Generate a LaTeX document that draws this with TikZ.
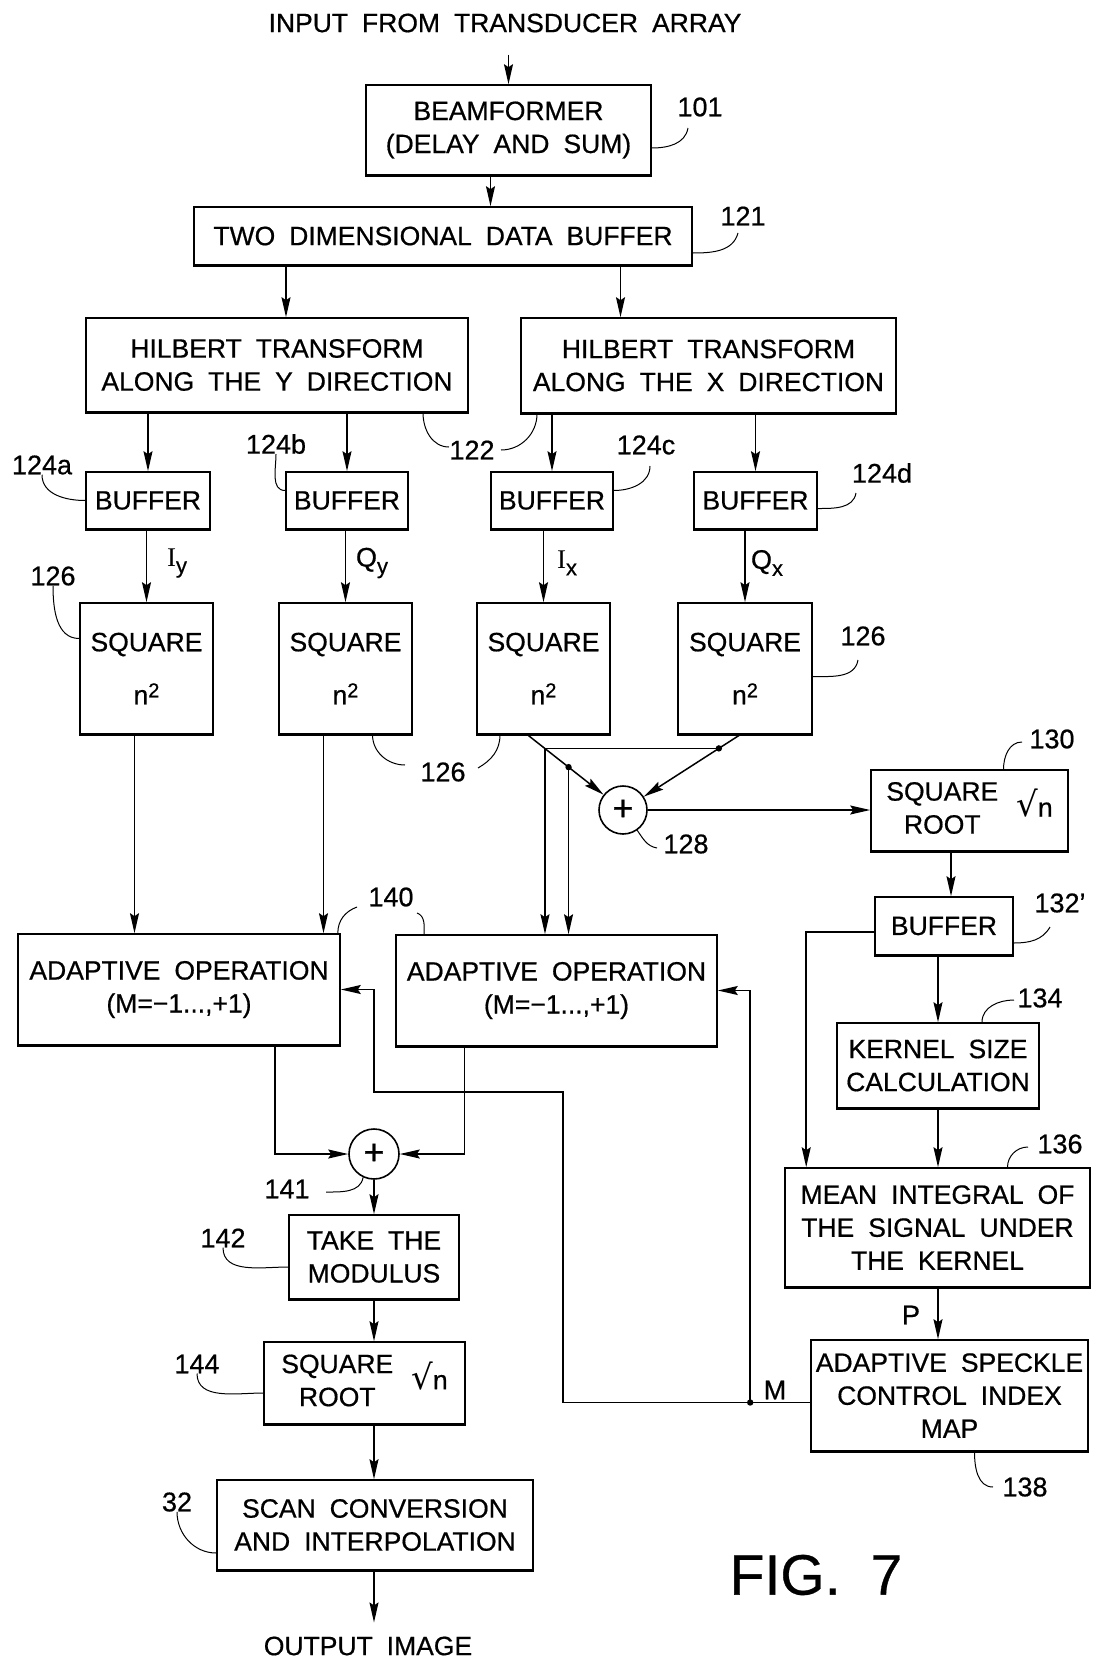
\documentclass[tikz,border=0pt]{standalone}
\usepackage{fontspec}
\setmainfont{Liberation Sans}[WordSpace=1.9, FakeBold=0.6]
\newfontfamily\symfont{DejaVu Sans}
\newfontfamily\serif{Liberation Serif}
\usepackage{tikz}
\usetikzlibrary{arrows.meta,calc}
\tikzset{node distance=2.0cm}
\newcommand{\sqsym}{{\symfont\fontsize{34}{34}\selectfont √}n}
\newcommand{\nsq}{n\raisebox{7pt}{\fontsize{20}{20}\selectfont 2}}

\begin{document}
\begin{tikzpicture}[x=1pt, y=1pt,
  blk/.style={draw, line width=1.6pt, align=center, inner sep=0pt,
    font=\fontsize{26.5}{33}\selectfont,
    append after command={(\tikzlastnode.south west) edge[line width=3pt] (\tikzlastnode.south east)}},
  sumc/.style={draw, circle, line width=1.6pt, inner sep=0pt, font=\fontsize{36}{36}\selectfont},
  txt/.style={font=\fontsize{26.5}{30}\selectfont, inner sep=0pt},
  lbl/.style={font=\fontsize{27}{30}\selectfont, inner sep=0pt},
  arr/.style={line width=1.5pt, -{Stealth[length=20pt, width=9pt, inset=3pt]}},
  lead/.style={line width=1pt}
]
\useasboundingbox (0,0) rectangle (1099,-1659);

\node[txt] (inp) at (505,-23) {INPUT FROM TRANSDUCER ARRAY};
\node[blk, minimum width=285pt, minimum height=90pt] (beam) at (508.5,-130) {BEAMFORMER\\(DELAY AND SUM)};
\node[blk, minimum width=498pt, minimum height=58pt] (tddb) at (443,-236) {TWO DIMENSIONAL DATA BUFFER};
\node[blk, minimum width=382pt, minimum height=94pt] (hilY) at (277,-365) {HILBERT TRANSFORM\\ALONG THE Y DIRECTION};
\node[blk, minimum width=375pt, minimum height=95pt] (hilX) at (708.5,-365.5) {HILBERT TRANSFORM\\ALONG THE X DIRECTION};
\node[blk, minimum width=124pt, minimum height=57pt] (bufA) at (148,-500.5) {BUFFER};
\node[blk, minimum width=122pt, minimum height=57pt] (bufB) at (347,-500.5) {BUFFER};
\node[blk, minimum width=122pt, minimum height=57pt] (bufC) at (552,-500.5) {BUFFER};
\node[blk, minimum width=123pt, minimum height=57pt] (bufD) at (755.5,-500.5) {BUFFER};
\node[blk, minimum width=133pt, minimum height=131pt] (sqA) at (146.5,-668.5) {SQUARE\\[20pt]\nsq};
\node[blk, minimum width=133pt, minimum height=131pt] (sqB) at (345.5,-668.5) {SQUARE\\[20pt]\nsq};
\node[blk, minimum width=133pt, minimum height=131pt] (sqC) at (543.5,-668.5) {SQUARE\\[20pt]\nsq};
\node[blk, minimum width=134pt, minimum height=131pt] (sqD) at (745,-668.5) {SQUARE\\[20pt]\nsq};
\node[sumc, minimum size=48pt] (sum1) at (623,-810) {+};
\node[blk, minimum width=197pt, minimum height=81pt] (sqrt130) at (969.5,-810.5) {\begin{tabular}{@{}c@{}}SQUARE\\ROOT\end{tabular}\hspace{18pt}\sqsym};
\node[blk, minimum width=138pt, minimum height=58pt] (buf132) at (944,-926) {BUFFER};
\node[blk, minimum width=202pt, minimum height=85pt] (kernel) at (938,-1065.5) {KERNEL SIZE\\CALCULATION};
\node[blk, minimum width=305pt, minimum height=119pt] (mean) at (937.5,-1227.5) {MEAN INTEGRAL OF\\THE SIGNAL UNDER\\THE KERNEL};
\node[blk, minimum width=277pt, minimum height=111pt] (ascim) at (949.5,-1395.5) {ADAPTIVE SPECKLE\\CONTROL INDEX\\MAP};
\node[blk, minimum width=322pt, minimum height=111pt] (ao1) at (179,-989.5) {ADAPTIVE OPERATION\\(M=−1...,+1)};
\node[blk, minimum width=321pt, minimum height=111pt] (ao2) at (556.5,-990.5) {ADAPTIVE OPERATION\\(M=−1...,+1)};
\node[sumc, minimum size=50pt] (sum2) at (374,-1154) {+};
\node[blk, minimum width=170pt, minimum height=84pt] (mod) at (374,-1257) {TAKE THE\\MODULUS};
\node[blk, minimum width=201pt, minimum height=82pt] (sqrt144) at (364.5,-1383) {\begin{tabular}{@{}c@{}}SQUARE\\ROOT\end{tabular}\hspace{18pt}\sqsym};
\node[blk, minimum width=316pt, minimum height=90pt] (scan) at (375,-1525) {SCAN CONVERSION\\AND INTERPOLATION};
\node[txt] (outp) at (368,-1646) {OUTPUT IMAGE};
\node[font=\fontsize{57}{60}\selectfont, inner sep=0pt] (fig) at (816,-1575) {FIG. 7};

\node[lbl] (iy) at (177,-563) {{\serif I}\raisebox{-7pt}{\fontsize{22}{22}\selectfont y}};
\node[lbl] (qy) at (372,-563) {Q\raisebox{-7pt}{\fontsize{22}{22}\selectfont y}};
\node[lbl] (ix) at (567,-563) {{\serif I}\raisebox{-7pt}{\fontsize{22}{22}\selectfont x}};
\node[lbl] (qx) at (767,-563) {Q\raisebox{-7pt}{\fontsize{22}{22}\selectfont x}};
\node[lbl] (pl) at (911,-1315) {P};
\node[lbl] (ml) at (775,-1390) {M};

\node[lbl] (l101) at (700,-107) {101};
\node[lbl] (l121) at (743,-216) {121};
\node[lbl] (l122) at (472,-450) {122};
\node[lbl] (l124a) at (42,-465) {124a};
\node[lbl] (l124b) at (276,-444) {124b};
\node[lbl] (l124c) at (646,-445) {124c};
\node[lbl] (l124d) at (882,-473) {124d};
\node[lbl] (l126a) at (53,-576) {126};
\node[lbl] (l126b) at (443,-772) {126};
\node[lbl] (l126d) at (863,-636) {126};
\node[lbl] (l128) at (686,-844) {128};
\node[lbl] (l130) at (1052,-739) {130};
\node[lbl] (l132) at (1060,-903) {132'};
\node[lbl] (l134) at (1040,-998) {134};
\node[lbl] (l136) at (1060,-1144) {136};
\node[lbl] (l138) at (1025,-1487) {138};
\node[lbl] (l140) at (391,-897) {140};
\node[lbl] (l141) at (287,-1189) {141};
\node[lbl] (l142) at (223,-1238) {142};
\node[lbl] (l144) at (197,-1364) {144};
\node[lbl] (l32) at (177,-1502) {32};

\draw[arr] ($(inp.south -| beam.north)+(0,-22)$) -- (beam.north);
\draw[arr] ([xshift=-18pt]beam.south) -- ($(beam.south |- tddb.north)+(-18,0)$);
\draw[arr] ($(hilY.north |- tddb.south)+(9,0)$) -- ([xshift=9pt]hilY.north);
\draw[arr] ($(hilX.north |- tddb.south)+(-88,0)$) -- ([xshift=-88pt]hilX.north);
\draw[arr] (hilY.south -| bufA) -- (bufA.north);
\draw[arr] (hilY.south -| bufB) -- (bufB.north);
\draw[arr] (hilX.south -| bufC) -- (bufC.north);
\draw[arr] (hilX.south -| bufD) -- (bufD.north);
\draw[arr] (bufA.south -| sqA) -- (sqA.north);
\draw[arr] (bufB.south -| sqB) -- (sqB.north);
\draw[arr] (bufC.south -| sqC) -- (sqC.north);
\draw[arr] (bufD.south -| sqD) -- (sqD.north);
\draw[arr] ([xshift=-12pt]sqA.south) -- ($(sqA.south |- ao1.north)+(-12,0)$);
\draw[arr] ([xshift=-22pt]sqB.south) -- ($(sqB.south |- ao1.north)+(-22,0)$);
\draw[arr] ([xshift=-16pt]sqC.south) -- coordinate[pos=0.23] (jK) coordinate[pos=0.54] (jI) (sum1);
\draw[arr] ([xshift=-5pt]sqD.south) -- coordinate[pos=0.22] (jQ) (sum1);
\draw[arr] (jQ) -| (jK |- ao2.north);
\draw[arr] (jI) -- (jI |- ao2.north);
\fill (jI) circle (3.2pt) (jQ) circle (3.2pt);
\draw[arr] (sum1.east) -- (sum1.east -| sqrt130.west);
\draw[arr] ($(buf132.north |- sqrt130.south)+(7,0)$) -- ([xshift=7pt]buf132.north);
\draw[arr] (kernel.north |- buf132.south) -- (kernel.north);
\draw[arr] ([yshift=-6pt]buf132.west) -| ([xshift=22pt]mean.north west);
\draw[arr] (kernel.south) -- (kernel.south |- mean.north);
\draw[arr] (mean.south -| kernel.south) -- (kernel.south |- ascim.north);

\coordinate (jM) at ($(ascim.west)+(-60,-7)$);
\coordinate (mTurn) at (563,-1092);
\draw[arr] ([yshift=-7pt]ascim.west) -| (mTurn) -| ([xshift=33pt]ao1.east) -- (ao1.east);
\draw[arr] (jM) |- (ao2.east);
\fill (jM) circle (3.2pt);

\draw[arr] ([xshift=96pt]ao1.south) |- (sum2.west);
\draw[arr] ([xshift=-92pt]ao2.south) |- (sum2.east);
\draw[arr] (sum2.south) -- (mod.north);
\draw[arr] (mod.south) -- (mod.south |- sqrt144.north);
\draw[arr] (mod.south |- sqrt144.south) -- (mod.south |- scan.north);
\draw[arr] (mod.south |- scan.south) -- ($(mod.south |- outp.north)+(0,14)$);

\draw[lead] ([yshift=-18pt]beam.east) to[out=0,in=-100] ([shift={(-12,-21)}]l101);
\draw[lead] ([yshift=-17pt]tddb.east) to[out=0,in=-105] ([shift={(-5,-17)}]l121);
\draw[lead] ([xshift=146pt]hilY.south) to[out=-90,in=180] ([shift={(-23,3)}]l122);
\draw[lead] ([xshift=-171.5pt]hilX.south) to[out=-90,in=0] ([shift={(29,0)}]l122);
\draw[lead] ([shift={(5,-15)}]l124a) to[out=-90,in=180] (bufA.west);
\draw[lead] ([shift={(-8,-16)}]l124b) to[out=-90,in=180] ([yshift=10pt]bufB.west);
\draw[lead] ([yshift=10pt]bufC.east) to[out=0,in=-90] ([shift={(4,-21)}]l124c);
\draw[lead] ([yshift=-8pt]bufD.east) to[out=0,in=-100] ([shift={(-26,-20)}]l124d);
\draw[lead] ([shift={(3,-22)}]l126a) to[out=-90,in=180] ([yshift=30pt]sqA.west);
\draw[lead] ([yshift=-8pt]sqD.east) to[out=0,in=-100] ([shift={(-5,-24)}]l126d);
\draw[lead] ([xshift=27pt]sqB.south) to[out=-90,in=180] ([shift={(-38,7)}]l126b);
\draw[lead] ([xshift=-43.5pt]sqC.south) to[out=-90,in=30] ([shift={(35,4)}]l126b);
\draw[lead] (sum1.-55) to[out=-55,in=170] ([shift={(-29,-4)}]l128);
\draw[lead] ([xshift=34pt]sqrt130.north) to[out=90,in=180] ([shift={(-30,-3)}]l130);
\draw[lead] ([yshift=-17pt]buf132.east) to[out=0,in=-120] ([shift={(-10,-24)}]l132);
\draw[lead] ([xshift=44pt]kernel.north) to[out=90,in=180] ([shift={(-26,-2)}]l134);
\draw[lead] ([xshift=70pt]mean.north) to[out=90,in=180] ([shift={(-32,-3)}]l136);
\draw[lead] ([xshift=25pt]ascim.south) to[out=-90,in=180] ([shift={(-32,0)}]l138);
\draw[lead] ([xshift=-3pt]ao1.north east) to[out=90,in=200] ([shift={(-34,-10)}]l140);
\draw[lead] ([xshift=29pt]ao2.north west) to[out=90,in=-20] ([shift={(26,-16)}]l140);
\draw[lead] (sum2.-115) to[out=-100,in=0] ([shift={(39,-3)}]l141);
\draw[lead] ([shift={(23,-17)}]l142) to[out=-90,in=180] ([yshift=-10pt]mod.west);
\draw[lead] ([shift={(25,-16)}]l144) to[out=-90,in=180] ([yshift=-10pt]sqrt144.west);
\draw[lead] ([shift={(3,-20)}]l32) to[out=-90,in=180] ([yshift=-28pt]scan.west);
\end{tikzpicture}
\end{document}
